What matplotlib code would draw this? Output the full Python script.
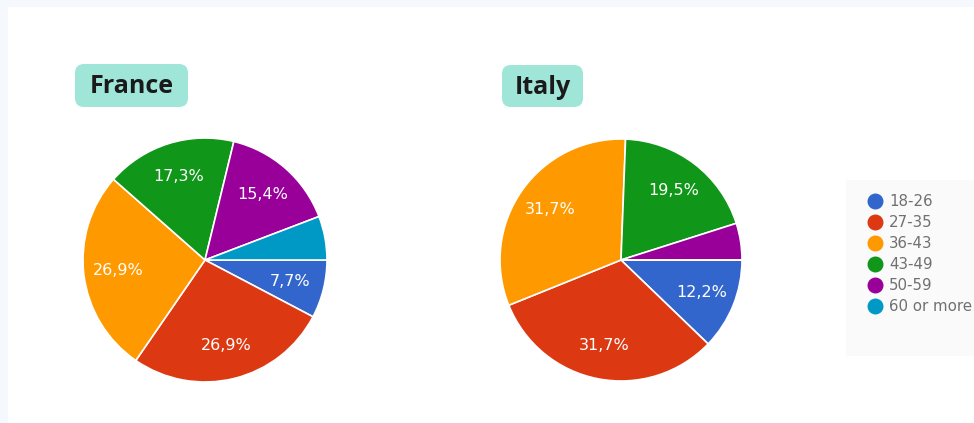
import matplotlib.pyplot as plt
from matplotlib.patches import FancyBboxPatch, Rectangle

# age groups and shares (%)
age_groups = ['18-26', '27-35', '36-43', '43-49', '50-59', '60 or more']
france = [7.7, 26.9, 26.9, 17.3, 15.4, 5.8]
italy = [12.2, 31.7, 31.7, 19.5, 4.9, 0.0]
colors = ['#3366cc', '#dc3912', '#ff9900', '#109618', '#990099', '#0099c6']

W, H = 974, 423


def pct_label(pct):
    """ comma decimal, small slices get no label """
    if pct < 7:
        return ''
    return f'{pct:.1f}%'.replace('.', ',')


def draw_pie(ax, values, center, radius, title, box):
    """ pie + rounded title tag, all in pixel coords (y up) """
    wedges, texts, autotexts = ax.pie(
        values, colors=colors, startangle=0, counterclock=False,
        center=center, radius=radius, autopct=pct_label, pctdistance=0.72,
        wedgeprops=dict(edgecolor='white', linewidth=1.2),
        textprops=dict(color='white', fontsize=11.5, family='DejaVu Sans'))

    x0, y0, x1, y1 = box
    tag = FancyBboxPatch((x0, H - y1), x1 - x0, y1 - y0,
                         boxstyle='round,pad=0,rounding_size=9',
                         fc='#9fe6d9', ec='none')
    ax.add_patch(tag)
    ax.text((x0 + x1) / 2, H - (y0 + y1) / 2 - 1, title, ha='center', va='center',
            fontsize=18, fontweight='bold', family='Open Sans', color='#1a1a1a')


fig = plt.figure(figsize=(W / 100, H / 100), dpi=100, facecolor='#f5f8fc')
ax = fig.add_axes([0, 0, 1, 1])
ax.add_patch(Rectangle((8, 0), W - 8, H - 7, fc='white', ec='none'))

draw_pie(ax, france, (205, H - 260), 122, 'France', (75, 64, 188, 107))
draw_pie(ax, italy, (621, H - 260), 121, 'Italy', (502, 65, 583, 107))

# legend drawn by hand, like the google forms one
ax.add_patch(Rectangle((846, H - 356), 128, 176, fc='#fafafa', ec='none'))
for i, (lab, col) in enumerate(zip(age_groups, colors)):
    y = H - (201 + 21 * i)
    ax.scatter([875], [y], s=110, color=col, zorder=3)
    ax.text(889, y, lab, ha='left', va='center', fontsize=10.8,
            family='DejaVu Sans', color='#707070')

ax.set_xlim(0, W)
ax.set_ylim(0, H)
ax.set_aspect('auto')
ax.axis('off')

plt.savefig('out.png', dpi=100, facecolor=fig.get_facecolor())
